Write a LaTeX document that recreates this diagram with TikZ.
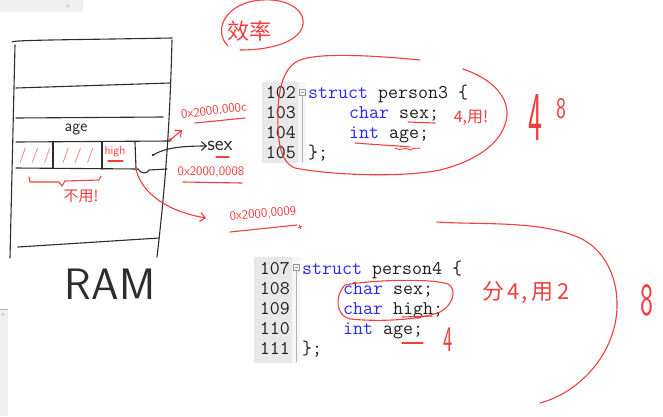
\documentclass[tikz,border=0pt]{standalone}
\usepackage{fontspec}
\setmainfont{Liberation Sans}
\newfontfamily\cjk{Noto Sans CJK SC}
\newcommand\handfont{\sffamily}
\usetikzlibrary{arrows.meta}
\definecolor{ink}{RGB}{242,62,62}
\definecolor{pen}{RGB}{45,45,45}
\definecolor{kw}{RGB}{40,40,250}
\definecolor{codetxt}{RGB}{30,30,30}
\definecolor{gutter}{RGB}{232,232,232}
\definecolor{foldbg}{RGB}{246,246,246}
\definecolor{uibar}{RGB}{240,240,240}
\tikzset{
  penline/.style={draw=pen, line width=1.1pt, line cap=round, line join=round},
  inkline/.style={draw=ink, line width=1.1pt, line cap=round, line join=round},
  codeline/.style={anchor=base west, inner sep=0pt, text=codetxt, font=\ttfamily\fontsize{19.4}{20}\selectfont},
  lineno/.style={anchor=base east, inner sep=0pt, text=codetxt, font=\ttfamily\fontsize{19.4}{20}\selectfont},
  handred/.style={inner sep=0pt, text=ink},
  handblack/.style={inner sep=0pt, text=pen},
  openhead/.style={-{Straight Barb[length=5pt,width=9pt]}},
}
\begin{document}
\begin{tikzpicture}[x=1pt,y=-1pt]
\useasboundingbox (0,0) rectangle (663,416);
\fill[white] (0,0) rectangle (663,416);
% screenshot UI remnants
\fill[uibar] (0,0) rectangle (83,12);
\node[text=gray!70, font=\fontsize{7}{7}\selectfont, inner sep=0pt] (uiarrow) at (68,6) {>};
\fill[uibar] (0,309) rectangle (8,416);
\draw[gray!60, line width=0.8pt] (0,309) -- (8,309);
\node[text=gray!70, font=\fontsize{7}{7}\selectfont, inner sep=0pt] (uiup) at (3,316) {\^{}};

% ---------- RAM drawing ----------
\draw[penline] (12,42) .. controls (14,40) and (60,40) .. (172,38);
\draw[penline] (15,45) -- (10,258);
\draw[penline] (172,40) .. controls (170,120) and (166,180) .. (157,257);
\draw[penline] (16,88) -- (170,83);
\draw[penline] (16,118) -- (163,117);
\draw[penline] (16,142) -- (170,141);
\draw[penline] (16,168) -- (138,169) .. controls (141,174) and (147,174) .. (149,170) -- (167,169);
\draw[penline] (53,142) -- (53,168);
\draw[penline] (102,142) -- (102,169);
\draw[penline] (135,142) -- (136,168);
\draw[penline] (18,247) -- (159,238);
\node[handblack, font=\handfont\fontsize{17}{17}\selectfont] (agetxt) at (76,129) {age};
\node[handred, font=\handfont\fontsize{15}{15}\selectfont] (sl1) at (35,156) {/ / /};
\node[handred, font=\handfont\fontsize{15}{15}\selectfont] (sl2) at (78,156) {/ / /};
\node[handred, font=\handfont\fontsize{12}{12}\selectfont] (hightxt) at (115,152) {high};
\draw[inkline] (108,161) -- (123,161);
\fill[pen] (153,155) circle (1.4);
\coordinate (dot) at (153,155);
\node[handblack, font=\handfont\fontsize{21}{21}\selectfont] (sextxt) at (220,146) {sex};
\draw[penline, openhead] (dot) .. controls (165,148) and (180,146) .. (sextxt.west);
\draw[inkline] (216,157) -- (229,157);
\node[handblack, font=\handfont\fontsize{44}{44}\selectfont] (ramtxt) at (110,284) {RAM};

% brace and note
\draw[inkline] (29,177) -- (30,182) -- (59,182) -- (62,186) -- (65,181) -- (99,180) -- (101,176);
\node[handred, font=\cjk\fontsize{15}{15}\selectfont] (buyong) at (81,196) {不用!};

% addresses
\fill[ink] (170,140) circle (1.8);
\coordinate (adrC) at (170,140);
\node[handred, font=\handfont\fontsize{13}{13}\selectfont, rotate=7] (addrc) at (214,111) {0x2000,000c};
\draw[inkline, openhead] (adrC) -- (182,130);
\draw[inkline] (195,123) -- (245,118);
\fill[ink] (136,169) circle (1.6);
\coordinate (adr8) at (136,169);
\node[handred, font=\handfont\fontsize{13}{13}\selectfont] (addr8) at (211,172) {0x2000,0008};
\draw[inkline] (183,182) -- (242,183);
\node[handred, font=\handfont\fontsize{13}{13}\selectfont, rotate=5] (addr9) at (263,214) {0x2000,0009};
\draw[inkline] (230,232) -- (297,225);
\draw[inkline, line width=0.8pt] (298,228) -- (302,226) (299,225) -- (301,229);
\coordinate (arr9) at (206,218);
\draw[inkline, openhead] (adr8) .. controls (140,188) and (160,210) .. (arr9);

% ---------- efficiency note ----------
\node[handred, font=\cjk\fontsize{22}{22}\selectfont] (xiaolv) at (249,31) {效率};
\draw[inkline] (228,46) .. controls (212,30) and (226,2) .. (262,0)
  .. controls (292,-2) and (308,14) .. (302,28)
  .. controls (296,42) and (272,50) .. (240,50);

% ---------- code block 1 ----------
\fill[gutter] (262,82) rectangle (298,163);
\fill[foldbg] (298,82) rectangle (306,163);
\draw[gray!80, line width=0.6pt] (299.5,89.5) rectangle (305.5,95.5);
\draw[gray!80, line width=0.6pt] (301,92.5) -- (304,92.5);
\draw[gray!60, line width=0.6pt] (302.5,95.5) -- (302.5,162);
\node[lineno] (n102) at (296,98) {102};
\node[lineno] (n103) at (296,118) {103};
\node[lineno] (n104) at (296,138) {104};
\node[lineno] (n105) at (296,158) {105};
\node[codeline] (c102) at (308,98) {\textcolor{kw}{struct} person3 \{};
\node[codeline] (c103) at (349,118) {\textcolor{kw}{char} sex;};
\node[codeline] (c104) at (349,138) {\textcolor{kw}{int} age;};
\node[codeline] (c105) at (308,158) {\};};
\draw[inkline] (408,122) -- (435,123);
\draw[inkline] (355,143) .. controls (380,145) and (400,146) .. (410,147);
\draw[inkline, line width=0.9pt] (395,148) .. controls (400,152) and (405,146) .. (410,150) .. controls (414,147) and (418,149) .. (420,148);
\node[handred, font=\cjk\fontsize{16}{16}\selectfont] (yong4) at (471,118) {4,用!};
\draw[inkline] (420,60) .. controls (380,56) and (320,52) .. (300,60)
  .. controls (285,66) and (279,85) .. (278,110)
  .. controls (277,140) and (280,162) .. (295,168)
  .. controls (330,175) and (400,178) .. (440,170)
  .. controls (480,160) and (505,140) .. (507,115)
  .. controls (508,95) and (490,78) .. (463,69);
\node[handred, font=\handfont\fontsize{70}{70}\selectfont, xscale=0.42] (four1) at (535,118) {4};
\node[handred, font=\handfont\fontsize{30}{30}\selectfont, xscale=0.7] (eight1) at (561,109) {8};

% ---------- code block 2 ----------
\fill[gutter] (254,257) rectangle (292,363);
\fill[foldbg] (292,257) rectangle (300,363);
\draw[gray!80, line width=0.6pt] (293.5,264.5) rectangle (299.5,270.5);
\draw[gray!80, line width=0.6pt] (295,267.5) -- (298,267.5);
\draw[gray!60, line width=0.6pt] (296.5,270.5) -- (296.5,362);
\node[lineno] (n107) at (290,274) {107};
\node[lineno] (n108) at (290,294) {108};
\node[lineno] (n109) at (290,314) {109};
\node[lineno] (n110) at (290,334) {110};
\node[lineno] (n111) at (290,354) {111};
\node[codeline] (c107) at (302,274) {\textcolor{kw}{struct} person4 \{};
\node[codeline] (c108) at (343,294) {\textcolor{kw}{char} sex;};
\node[codeline] (c109) at (343,314) {\textcolor{kw}{char} high;};
\node[codeline] (c110) at (343,334) {\textcolor{kw}{int} age;};
\node[codeline] (c111) at (302,354) {\};};
\draw[inkline] (345,285) .. controls (370,280) and (430,278) .. (448,284)
  .. controls (458,290) and (452,306) .. (440,312)
  .. controls (420,320) and (380,322) .. (350,319)
  .. controls (336,316) and (334,296) .. (345,285);
\draw[inkline] (402,317) -- (432,316);
\draw[inkline] (402,343) -- (423,343);
\node[handred, font=\handfont\fontsize{36}{36}\selectfont, xscale=0.55] (four2) at (448,340) {4};
\node[handred, font=\cjk\fontsize{22}{22}\selectfont] (fen4) at (526,293) {分\hspace{3pt}4\hspace{2pt},\hspace{3pt}用\hspace{4pt}2};
\draw[inkline] (437,222) .. controls (480,225) and (540,220) .. (580,238)
  .. controls (615,255) and (624,300) .. (612,335)
  .. controls (600,370) and (570,395) .. (540,403);
\node[handred, font=\handfont\fontsize{46}{46}\selectfont, xscale=0.6] (eight2) at (647,300) {8};
\end{tikzpicture}
\end{document}
